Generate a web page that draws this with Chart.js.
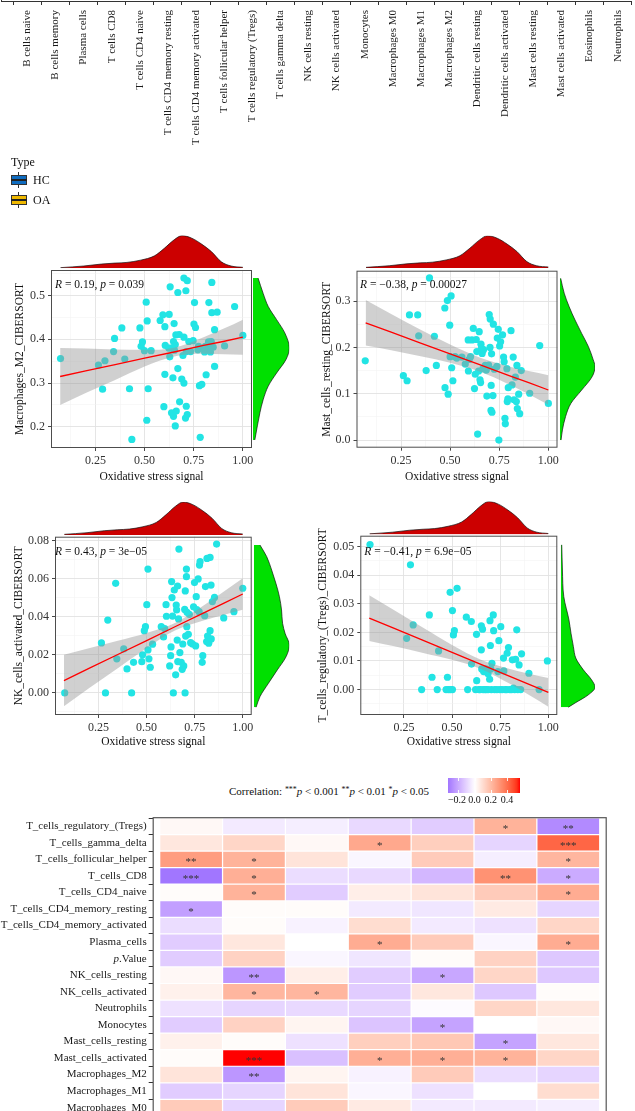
<!DOCTYPE html>
<html><head><meta charset="utf-8">
<script src="https://cdn.jsdelivr.net/npm/chart.js@4.4.1/dist/chart.umd.min.js"></script>
<style>
html,body{margin:0;padding:0;background:#fff;}
body{position:relative;width:635px;height:1111px;overflow:hidden;font-family:"Liberation Serif","Times New Roman",serif;color:#111;}
canvas{position:absolute;}
.t{position:absolute;white-space:nowrap;line-height:1;}
.k{position:absolute;box-sizing:border-box;}
sup{font-size:0.72em;vertical-align:0.38em;line-height:0;}
</style></head><body>
<script>
// ---------------- DATA ----------------
const cellTypes = ["B cells naive","B cells memory","Plasma cells","T cells CD8","T cells CD4 naive","T cells CD4 memory resting","T cells CD4 memory activated","T cells follicular helper","T cells regulatory (Tregs)","T cells gamma delta","NK cells resting","NK cells activated","Monocytes","Macrophages M0","Macrophages M1","Macrophages M2","Dendritic cells resting","Dendritic cells activated","Mast cells resting","Mast cells activated","Eosinophils","Neutrophils"];
const typeLevels = ["HC","OA"];

const oxiTitle = "Oxidative stress signal";
const oxiTicks = [0.25,0.50,0.75,1.00];

const m2Points = [[0.072,0.356],[0.265,0.341],[0.298,0.351],[0.286,0.286],[0.342,0.372],[0.347,0.402],[0.384,0.426],[0.399,0.355],[0.423,0.287],[0.435,0.171],[0.476,0.426],[0.482,0.384],[0.489,0.394],[0.499,0.374],[0.508,0.485],[0.513,0.442],[0.518,0.287],[0.533,0.374],[0.511,0.215],[0.579,0.443],[0.593,0.456],[0.603,0.429],[0.603,0.320],[0.598,0.246],[0.625,0.457],[0.630,0.520],[0.650,0.436],[0.656,0.388],[0.669,0.507],[0.669,0.333],[0.676,0.411],[0.678,0.257],[0.637,0.232],[0.695,0.363],[0.700,0.540],[0.717,0.534],[0.710,0.511],[0.712,0.372],[0.717,0.228],[0.652,0.375],[0.659,0.410],[0.689,0.309],[0.700,0.300],[0.700,0.405],[0.712,0.247],[0.708,0.220],[0.725,0.395],[0.734,0.372],[0.747,0.397],[0.751,0.435],[0.754,0.484],[0.759,0.427],[0.771,0.376],[0.774,0.384],[0.779,0.294],[0.783,0.176],[0.791,0.297],[0.796,0.380],[0.805,0.371],[0.813,0.319],[0.818,0.381],[0.825,0.394],[0.827,0.484],[0.835,0.371],[0.839,0.395],[0.842,0.461],[0.842,0.530],[0.849,0.382],[0.856,0.338],[0.856,0.422],[0.869,0.462],[0.907,0.385],[0.958,0.475],[1.000,0.409],[0.605,0.386],[0.635,0.380],[0.647,0.395],[0.809,0.384],[0.623,0.380],[0.628,0.360],[0.644,0.312],[0.647,0.224],[0.661,0.236],[0.656,0.202]];
const mastRestPoints = [[0.068,0.171],[0.262,0.139],[0.281,0.128],[0.293,0.270],[0.335,0.270],[0.340,0.225],[0.378,0.150],[0.395,0.350],[0.420,0.224],[0.430,0.161],[0.473,0.285],[0.474,0.113],[0.486,0.301],[0.490,0.099],[0.498,0.248],[0.505,0.311],[0.500,0.180],[0.508,0.156],[0.514,0.128],[0.525,0.180],[0.534,0.177],[0.577,0.164],[0.592,0.216],[0.593,0.149],[0.604,0.180],[0.611,0.216],[0.618,0.241],[0.624,0.111],[0.628,0.142],[0.633,0.217],[0.636,0.191],[0.640,0.013],[0.645,0.149],[0.648,0.234],[0.652,0.130],[0.655,0.124],[0.657,0.207],[0.660,0.198],[0.663,0.187],[0.667,0.154],[0.670,0.195],[0.679,0.161],[0.684,0.151],[0.687,0.095],[0.694,0.159],[0.696,0.162],[0.699,0.271],[0.703,0.200],[0.704,0.261],[0.708,0.064],[0.709,0.118],[0.711,0.186],[0.713,0.060],[0.718,0.096],[0.720,0.250],[0.725,0.153],[0.738,0.159],[0.740,0.220],[0.745,0.239],[0.748,0.000],[0.752,0.203],[0.757,0.212],[0.767,0.227],[0.772,0.179],[0.775,0.169],[0.779,0.047],[0.781,0.035],[0.789,0.154],[0.791,0.083],[0.794,0.089],[0.796,0.113],[0.810,0.236],[0.815,0.119],[0.821,0.179],[0.825,0.087],[0.832,0.136],[0.837,0.083],[0.840,0.161],[0.842,0.068],[0.849,0.099],[0.854,0.057],[0.862,0.150],[0.905,0.101],[0.956,0.204],[1.000,0.079],[0.560,0.179],[0.597,0.174]];
const nkActPoints = [[0.074,0.0],[0.265,0.0263],[0.286,0.0],[0.298,0.0383],[0.339,0.0576],[0.345,0.0179],[0.381,0.0231],[0.398,0.0126],[0.422,0.0],[0.432,0.0161],[0.475,0.0164],[0.479,0.0200],[0.488,0.0327],[0.494,0.0348],[0.501,0.0464],[0.507,0.0651],[0.507,0.0226],[0.512,0.0179],[0.519,0.0135],[0.531,0.0256],[0.576,0.0348],[0.588,0.0294],[0.594,0.0338],[0.601,0.0464],[0.603,0.0403],[0.620,0.0142],[0.625,0.0196],[0.627,0.0242],[0.630,0.0585],[0.632,0.0501],[0.635,0.0404],[0.639,0.0],[0.644,0.0541],[0.651,0.0095],[0.654,0.0462],[0.656,0.0436],[0.659,0.0278],[0.661,0.0562],[0.662,0.0165],[0.666,0.0389],[0.668,0.0756],[0.673,0.0212],[0.680,0.0161],[0.685,0.0124],[0.688,0.0257],[0.693,0.0142],[0.698,0.0439],[0.700,0.0],[0.701,0.0536],[0.703,0.0299],[0.707,0.0651],[0.707,0.0611],[0.709,0.0348],[0.710,0.0424],[0.717,0.0308],[0.722,0.0413],[0.729,0.0264],[0.739,0.0257],[0.744,0.0453],[0.749,0.0580],[0.755,0.0247],[0.758,0.0506],[0.761,0.0438],[0.768,0.0599],[0.773,0.0427],[0.775,0.0672],[0.778,0.0690],[0.789,0.0161],[0.792,0.0196],[0.802,0.0406],[0.806,0.0559],[0.812,0.0270],[0.814,0.0707],[0.817,0.0299],[0.823,0.0261],[0.830,0.0712],[0.830,0.0327],[0.835,0.0567],[0.836,0.0284],[0.842,0.0480],[0.853,0.0502],[0.864,0.0782],[0.901,0.0394],[0.954,0.0427],[1.000,0.0550]];
const tregPoints = [[0.074,0.0507],[0.264,0.0179],[0.284,0.0436],[0.298,0.0226],[0.342,0.0],[0.382,0.0261],[0.396,0.0043],[0.423,0.0],[0.430,0.0135],[0.469,0.0],[0.476,0.0043],[0.481,0.0],[0.490,0.0340],[0.491,0.0],[0.502,0.0276],[0.502,0.0],[0.507,0.0191],[0.512,0.0206],[0.526,0.0354],[0.574,0.0253],[0.581,0.0],[0.600,0.0238],[0.601,0.0089],[0.622,0.0],[0.627,0.0193],[0.628,0.0031],[0.640,0.0],[0.652,0.0139],[0.652,0.0223],[0.654,0.0072],[0.658,0.0211],[0.661,0.0],[0.664,0.0063],[0.670,0.0],[0.675,0.0072],[0.687,0.0055],[0.695,0.0036],[0.697,0.0241],[0.699,0.0154],[0.701,0.0072],[0.704,0.0],[0.707,0.0092],[0.714,0.0261],[0.716,0.0206],[0.721,0.0],[0.738,0.0063],[0.743,0.0171],[0.748,0.0],[0.753,0.0220],[0.760,0.0],[0.767,0.0110],[0.769,0.0065],[0.776,0.0],[0.786,0.0127],[0.793,0.0147],[0.800,0.0],[0.813,0.0104],[0.819,0.0005],[0.825,0.0],[0.830,0.0106],[0.836,0.0209],[0.841,0.0],[0.848,0.0086],[0.856,0.0],[0.861,0.0125],[0.899,0.0057],[0.952,0.0],[0.995,0.0100],[0.646,0.0],[0.677,0.0],[0.687,0.0],[0.733,0.0],[0.784,0.0],[0.809,0.0]];

const fitX = [0.07,0.2,0.35,0.5,0.65,0.8,0.9,1.0];
const m2Fit = [0.315,0.328,0.342,0.357,0.371,0.386,0.395,0.405];
const m2Lo  = [0.250,0.277,0.307,0.338,0.361,0.367,0.366,0.365];
const m2Hi  = [0.380,0.379,0.377,0.376,0.381,0.405,0.424,0.445];
const mastFit = [0.253,0.233,0.209,0.186,0.163,0.139,0.124,0.108];
const mastLo  = [0.204,0.194,0.181,0.167,0.148,0.120,0.099,0.076];
const mastHi  = [0.302,0.272,0.238,0.206,0.178,0.159,0.149,0.140];
const nkFit = [0.0065,0.0129,0.0202,0.0275,0.0349,0.0422,0.0471,0.0520];
const nkLo  = [-0.0070,0.0024,0.0130,0.0235,0.0329,0.0382,0.0410,0.0437];
const nkHi  = [0.0200,0.0235,0.0274,0.0315,0.0369,0.0462,0.0532,0.0603];
const tregFit = [0.0250,0.0214,0.0172,0.0130,0.0088,0.0046,0.0018,-0.0010];
const tregLo  = [0.0170,0.0151,0.0128,0.0104,0.0072,0.0020,-0.0019,-0.0060];
const tregHi  = [0.0330,0.0277,0.0216,0.0156,0.0104,0.0072,0.0055,0.0040];

const oxiDensX = [0.072,0.19,0.28,0.35,0.41,0.48,0.55,0.60,0.65,0.69,0.74,0.79,0.84,0.89,0.94,1.0];
const oxiDens  = [0.02,0.07,0.13,0.16,0.18,0.25,0.38,0.61,0.87,1.0,0.92,0.74,0.51,0.20,0.07,0.03];
const m2DensY = [0.54,0.505,0.475,0.445,0.414,0.38,0.354,0.323,0.293,0.262,0.232,0.202,0.17];
const m2Dens  = [0.14,0.28,0.42,0.65,0.88,1.0,0.91,0.65,0.42,0.28,0.19,0.12,0.05];
const mastDensY = [0.349,0.317,0.288,0.259,0.230,0.202,0.173,0.159,0.137,0.108,0.079,0.051,0.022,0.0];
const mastDens  = [0.02,0.12,0.26,0.43,0.62,0.81,0.95,1.0,0.92,0.62,0.31,0.16,0.07,0.03];
const nkDensY = [0.0777,0.0716,0.0646,0.0576,0.0506,0.0436,0.0366,0.0313,0.0252,0.0191,0.0121,0.0051,-0.0019,-0.0075];
const nkDens  = [0.17,0.36,0.50,0.62,0.72,0.78,0.81,0.88,1.0,0.91,0.66,0.41,0.17,0.06];
const tregDensY = [0.0506,0.0418,0.0325,0.0244,0.0197,0.0150,0.0110,0.0069,0.0034,0.0008,-0.0018,-0.0047,-0.0062];
const tregDens  = [0.03,0.05,0.09,0.24,0.30,0.37,0.44,0.66,0.90,1.0,0.81,0.42,0.22];

const heatRows = ["T_cells_regulatory_(Tregs)","T_cells_gamma_delta","T_cells_follicular_helper","T_cells_CD8","T_cells_CD4_naive","T_cells_CD4_memory_resting","T_cells_CD4_memory_activated","Plasma_cells","p.Value","NK_cells_resting","NK_cells_activated","Neutrophils","Monocytes","Mast_cells_resting","Mast_cells_activated","Macrophages_M2","Macrophages_M1","Macrophages_M0"];
const heatCols = ["C1","C2","C3","C4","C5","C6","C7"];
const heatValues = [
 [0.02,-0.05,-0.04,-0.09,-0.12,0.22,-0.28],
 [0.07,0.12,0.02,0.25,0.14,-0.10,0.42],
 [0.28,0.22,0.08,-0.02,0.15,-0.04,0.21],
 [-0.33,0.23,-0.08,-0.09,-0.17,0.31,-0.20],
 [0.01,0.22,-0.12,0.05,0.08,0.15,0.24],
 [-0.23,0.01,0.01,-0.05,-0.06,0.06,-0.10],
 [-0.08,0.01,-0.03,0.10,-0.05,-0.07,0.12],
 [-0.12,0.07,0.0,0.24,0.15,-0.02,0.24],
 [-0.12,0.13,-0.02,-0.06,0.01,0.13,-0.13],
 [0.02,-0.25,0.05,-0.12,-0.21,0.12,-0.13],
 [0.04,0.21,0.21,-0.12,0.07,-0.13,0.01],
 [-0.07,-0.10,-0.09,-0.10,-0.01,0.12,0.07],
 [-0.12,0.13,0.03,-0.14,-0.22,0.0,0.02],
 [0.04,0.01,-0.07,0.14,0.16,-0.22,0.07],
 [0.01,0.555,-0.15,0.23,0.23,0.22,0.12],
 [0.08,-0.25,0.03,-0.03,0.15,-0.08,-0.10],
 [-0.12,-0.10,0.08,-0.02,-0.07,0.0,0.10],
 [0.15,-0.10,0.15,0.06,-0.05,-0.05,-0.04]];
const heatStars = [
 ["","","","","","*","**"],
 ["","","","*","","","***"],
 ["**","*","","","","","*"],
 ["***","*","","","","**","*"],
 ["","*","","","","","*"],
 ["*","","","","","",""],
 ["","","","","","",""],
 ["","","","*","","","*"],
 ["","","","","","",""],
 ["","**","","","*","",""],
 ["","*","*","","","",""],
 ["","","","","","",""],
 ["","","","","*","",""],
 ["","","","","","*",""],
 ["","***","","*","*","*",""],
 ["","**","","","","",""],
 ["","","","","","",""],
 ["","","","","","",""]];
const corrTicks = [-0.2,0.0,0.2,0.4];

// ---------------- HELPERS ----------------
const F = '"Liberation Serif","Times New Roman",serif';
Chart.defaults.font.family = F;
Chart.defaults.color = '#333';

function mk(l,t,w,h){const c=document.createElement('canvas');c.width=w;c.height=h;c.style.left=l+'px';c.style.top=t+'px';c.style.width=w+'px';c.style.height=h+'px';document.body.appendChild(c);return c;}
function txt(html,l,cy,size,extra){const d=document.createElement('div');d.className='t';d.innerHTML=html;d.style.left=l+'px';d.style.top=(cy-size/2)+'px';d.style.fontSize=size+'px';if(extra)d.style.cssText+=extra;document.body.appendChild(d);return d;}
function box(l,t,w,h,css){const d=document.createElement('div');d.className='k';d.style.cssText+=`left:${l}px;top:${t}px;width:${w}px;height:${h}px;`+css;document.body.appendChild(d);return d;}
const isMajor=(v,m)=>Math.abs(v/m-Math.round(v/m))<1e-6;
function tickList(lo,hi,step){const out=[];for(let k=Math.ceil(lo/step-1e-9);k*step<=hi+1e-12;k++){out.push({value:Math.round(k*step*1e6)/1e6});}return out;}
const BASEOPT={responsive:false,animation:false,devicePixelRatio:1,events:[]};
const frame={id:'frame',afterDatasetsDraw(chart,args,o){if(!o||!o.color)return;const a=chart.chartArea,c=chart.ctx;c.save();c.strokeStyle=o.color;c.lineWidth=o.width||1;c.strokeRect(a.left+0.5,a.top+0.5,a.right-a.left-1,a.bottom-a.top-1);c.restore();}};

const oxiRange=[0.0235,1.0465];

function scatterPanel(p){
  const [cl,ct,cr,cb]=p.canvas,[al,at,ar,ab]=p.area;
  const c=mk(cl,ct,cr-cl,cb-ct);
  const gc=m=>ctx=>(ctx.tick&&isMajor(ctx.tick.value,m))?'#e2e2e2':'#f1f1f1';
  const gw=m=>ctx=>(ctx.tick&&isMajor(ctx.tick.value,m))?0.9:0.5;
  const tc=m=>ctx=>(ctx.tick&&isMajor(ctx.tick.value,m))?'#333':'rgba(0,0,0,0)';
  const xMaj=oxiTicks[1]-oxiTicks[0];
  new Chart(c,{type:'scatter',data:{datasets:[
    {data:fitX.map((x,i)=>({x,y:p.fit[i]})),showLine:true,borderColor:'#ff0000',borderWidth:1.3,pointRadius:0,order:0},
    {data:fitX.map((x,i)=>({x,y:p.lo[i]})),showLine:true,borderWidth:0,borderColor:'rgba(0,0,0,0)',pointRadius:0,fill:false,cubicInterpolationMode:'monotone',order:1},
    {data:fitX.map((x,i)=>({x,y:p.hi[i]})),showLine:true,borderWidth:0,borderColor:'rgba(0,0,0,0)',pointRadius:0,fill:'-1',backgroundColor:'rgba(150,150,150,0.45)',cubicInterpolationMode:'monotone',order:1},
    {data:p.points.map(q=>({x:q[0],y:q[1]})),pointRadius:3.6,pointBackgroundColor:'#22e4e4',pointBorderWidth:0,order:2}
  ]},options:Object.assign({},BASEOPT,{
    layout:{padding:{left:0,top:at-ct,right:cr-ar,bottom:0}},
    plugins:{legend:{display:false},tooltip:{enabled:false},frame:{color:'#4d4d4d',width:1}},
    scales:{
      x:{type:'linear',min:oxiRange[0],max:oxiRange[1],afterFit:s=>{s.height=cb-ab;},
        afterBuildTicks:s=>{s.ticks=tickList(oxiRange[0],oxiRange[1],xMaj/2);},
        ticks:{autoSkip:false,maxRotation:0,font:{size:12},color:'#333',padding:3,callback:v=>isMajor(v,xMaj)?v.toFixed(2):''},
        grid:{color:gc(xMaj),lineWidth:gw(xMaj),tickColor:tc(xMaj),tickLength:3},
        border:{display:false},
        title:{display:true,text:oxiTitle,font:{size:11.5},color:'#111',padding:0}},
      y:{type:'linear',min:p.yr[0],max:p.yr[1],afterFit:s=>{s.width=al-cl;},
        afterBuildTicks:s=>{s.ticks=tickList(p.yr[0],p.yr[1],p.yMajor/2);},
        ticks:{autoSkip:false,font:{size:12},color:'#333',padding:3,callback:v=>isMajor(v,p.yMajor)?v.toFixed(p.yDec):''},
        grid:{color:gc(p.yMajor),lineWidth:gw(p.yMajor),tickColor:tc(p.yMajor),tickLength:3},
        border:{display:false},
        title:{display:true,text:p.ytitle,font:{size:11.5},color:'#111',padding:0}}
    }}),plugins:[frame]});
}

function topDensity(l,r,base,peak){
  const cl=Math.floor(l),cr=Math.ceil(r),ct=Math.floor(base-peak-2),cb=Math.ceil(base);
  const c=mk(cl,ct,cr-cl,cb-ct);
  new Chart(c,{type:'line',data:{datasets:[{data:oxiDensX.map((x,i)=>({x,y:oxiDens[i]})),fill:'origin',backgroundColor:'#cc0000',borderColor:'#111',borderWidth:0.7,pointRadius:0,cubicInterpolationMode:'monotone'}]},
    options:Object.assign({},BASEOPT,{layout:{padding:{left:l-cl,right:cr-r,top:(base-peak)-ct,bottom:cb-base}},
      plugins:{legend:{display:false},tooltip:{enabled:false}},
      scales:{x:{type:'linear',display:false,min:oxiRange[0],max:oxiRange[1]},y:{type:'linear',display:false,min:0,max:1}}})});
}
function rightDensity(l,w,t,b,yr,ys,ds){
  const cl=Math.floor(l),cr=Math.ceil(l+w+2),ct=Math.floor(t),cb=Math.ceil(b);
  const c=mk(cl,ct,cr-cl,cb-ct);
  new Chart(c,{type:'line',data:{datasets:[{data:ys.map((y,i)=>({x:ds[i],y})),fill:'origin',backgroundColor:'#00e000',borderColor:'#111',borderWidth:0.7,pointRadius:0,cubicInterpolationMode:'monotone'}]},
    options:Object.assign({},BASEOPT,{indexAxis:'y',layout:{padding:{left:l-cl,right:cr-(l+w),top:t-ct,bottom:cb-b}},
      plugins:{legend:{display:false},tooltip:{enabled:false}},
      scales:{x:{type:'linear',display:false,min:0,max:1},y:{type:'linear',display:false,min:yr[0],max:yr[1]}}})});
}

// ---------------- TOP CATEGORY AXIS ----------------
const axisLine={id:'axisLine',afterDraw(chart){const c=chart.ctx,a=chart.chartArea;c.save();c.strokeStyle='#333';c.lineWidth=1;c.beginPath();c.moveTo(1,a.bottom+0.5);c.lineTo(631,a.bottom+0.5);c.moveTo(1.5,0);c.lineTo(1.5,a.bottom+0.5);c.stroke();c.restore();}};
new Chart(mk(0,-40,645,200),{type:'bar',data:{labels:cellTypes,datasets:[]},options:Object.assign({},BASEOPT,{
  layout:{padding:{left:13.25,right:13.3,top:0,bottom:0}},
  plugins:{legend:{display:false},tooltip:{enabled:false}},
  scales:{x:{type:'category',offset:true,afterFit:s=>{s.height=159;},
    ticks:{autoSkip:false,minRotation:90,maxRotation:90,font:{size:11},color:'#1a1a1a',padding:5},
    grid:{drawOnChartArea:false,tickLength:4,color:'#333'},border:{display:false}},
    y:{display:false}}}),plugins:[axisLine]});

// ---------------- SCATTER PANELS ----------------
topDensity(51,252,268.3,32.7);
topDensity(356.5,557.5,268,32.3);
topDensity(55,251.7,535,33);
topDensity(360.3,557.3,534.5,33);

const p1yr=[0.1515,0.5585],p2yr=[-0.0165,0.3655],p3yr=[-0.0116,0.0821],p4yr=[-0.0089,0.0538];
rightDensity(253,36.3,270,448,p1yr,m2DensY,m2Dens);
rightDensity(560,35,270.7,447.7,p2yr,mastDensY,mastDens);
rightDensity(254,35.3,536.7,715,p3yr,nkDensY,nkDens);
rightDensity(560.7,34.3,535.7,715,p4yr,tregDensY,tregDens);

scatterPanel({canvas:[13,258,262,484],area:[51,270,252,448],yr:p1yr,yMajor:0.1,yDec:1,points:m2Points,fit:m2Fit,lo:m2Lo,hi:m2Hi,ytitle:'Macrophages_M2_CIBERSORT'});
scatterPanel({canvas:[320,258,568,484],area:[356.5,270.7,557.5,447.7],yr:p2yr,yMajor:0.1,yDec:1,points:mastRestPoints,fit:mastFit,lo:mastLo,hi:mastHi,ytitle:'Mast_cells_resting_CIBERSORT'});
scatterPanel({canvas:[12,524,262,749],area:[55,536.7,251.7,715],yr:p3yr,yMajor:0.02,yDec:2,points:nkActPoints,fit:nkFit,lo:nkLo,hi:nkHi,ytitle:'NK_cells_activated_CIBERSORT'});
scatterPanel({canvas:[316,524,568,749],area:[360.3,535.7,557.3,715],yr:p4yr,yMajor:0.01,yDec:2,points:tregPoints,fit:tregFit,lo:tregLo,hi:tregHi,ytitle:'T_cells_regulatory_(Tregs)_CIBERSORT'});

// ---------------- HEATMAP ----------------
function s2l(c){c/=255;return c<=0.04045?c/12.92:Math.pow((c+0.055)/1.055,2.4);}
function l2s(c){c=Math.max(0,Math.min(1,c));return Math.round(255*(c<=0.0031308?12.92*c:1.055*Math.pow(c,1/2.4)-0.055));}
function rgb2lab(rgb){const r=s2l(rgb[0]),g=s2l(rgb[1]),b=s2l(rgb[2]);const X=(0.4124*r+0.3576*g+0.1805*b)/0.95047,Y=0.2126*r+0.7152*g+0.0722*b,Z=(0.0193*r+0.1192*g+0.9505*b)/1.08883;const f=t=>t>0.008856?Math.cbrt(t):7.787*t+16/116;const fx=f(X),fy=f(Y),fz=f(Z);return[116*fy-16,500*(fx-fy),200*(fy-fz)];}
function lab2rgb(l){const fy=(l[0]+16)/116,fx=fy+l[1]/500,fz=fy-l[2]/200;const inv=t=>t*t*t>0.008856?t*t*t:(t-16/116)/7.787;const X=inv(fx)*0.95047,Y=inv(fy),Z=inv(fz)*1.08883;return[l2s(3.2406*X-1.5372*Y-0.4986*Z),l2s(-0.9689*X+1.8758*Y+0.0415*Z),l2s(0.0557*X-0.2040*Y+1.0570*Z)];}
const LAB_W=rgb2lab([255,255,255]),LAB_B=rgb2lab([0,0,255]),LAB_R=rgb2lab([255,0,0]);
const allVals=heatValues.flat();
const vMin=Math.min(...allVals),vMax=Math.max(...allVals),vAbs=Math.max(-vMin,vMax);
function corrColor(v){const t=Math.max(-1,Math.min(1,v/vAbs));const e=t<0?LAB_B:LAB_R,a=Math.abs(t);const c=lab2rgb([0,1,2].map(i=>LAB_W[i]+(e[i]-LAB_W[i])*a));return `rgb(${c[0]},${c[1]},${c[2]})`;}

const ITALIC_ROW='p.Value';
const stars={id:'stars',afterDatasetsDraw(chart){const c=chart.ctx;c.save();c.fillStyle='#333';c.font='11px '+F;c.textAlign='center';c.textBaseline='middle';
  heatCols.forEach((col,j)=>{const meta=chart.getDatasetMeta(j);heatRows.forEach((r,i)=>{const s=heatStars[i][j];if(!s)return;const el=meta.data[i];const cp=el.getCenterPoint();c.fillText(s,cp.x,cp.y+3);});});
  const a=chart.chartArea;c.strokeStyle='#555';c.lineWidth=1.2;c.strokeRect(a.left+0.5,a.top-0.3,a.right-a.left-1,a.bottom-a.top+2);
  // row label with italic "p"
  const yi=heatRows.indexOf(ITALIC_ROW);
  if(yi>=0){const ys=chart.scales.y;const py=ys.getPixelForTick(yi);const xr=ys.right-4-2;c.fillStyle='#1a1a1a';c.textAlign='right';c.textBaseline='middle';
    c.font='11px '+F;const rest=ITALIC_ROW.slice(1);c.fillText(rest,xr,py);const w=c.measureText(rest).width;c.font='italic 11px '+F;c.fillText(ITALIC_ROW[0],xr-w,py);}
  c.restore();}};
const colPad=0.111;
new Chart(mk(0,800,635,330),{type:'bar',data:{labels:heatRows,datasets:heatCols.map((col,j)=>({label:col,data:heatRows.map(()=>[j+1-0.49,j+1+0.49]),backgroundColor:heatRows.map((r,i)=>corrColor(heatValues[i][j])),borderWidth:0,grouped:false,barPercentage:1,categoryPercentage:0.93}))},
  options:Object.assign({},BASEOPT,{indexAxis:'y',layout:{padding:{left:0,top:18,right:28.3,bottom:14.1}},
    plugins:{legend:{display:false},tooltip:{enabled:false}},
    scales:{x:{type:'linear',display:false,min:0.5-colPad,max:heatCols.length+0.5+colPad},
      y:{type:'category',offset:true,afterFit:s=>{s.width=152.7;},ticks:{autoSkip:false,font:{size:11},color:'#1a1a1a',padding:2,callback:function(v){const l=this.getLabelForValue(v);return l===ITALIC_ROW?'':l;}},
        grid:{drawOnChartArea:false,tickLength:4,color:'#333'},border:{display:false}}}}),plugins:[stars]});

// ---------------- TEXT / LEGENDS ----------------
txt('Type',11,162,12);
const keyColors=['#0f6cc0','#efb800'];
typeLevels.forEach((lv,i)=>{const cy=180+20*i;
  box(18.3,cy-8,1,3.5,'background:#333;');box(18.3,cy+4.8,1,3.5,'background:#333;');
  box(11,cy-5,15.5,10.3,`background:${keyColors[i]};border:1px solid #333;`);
  box(11,cy-0.6,15.5,1.3,'background:#222;');
  txt(lv,33,cy,12);});

const ann=[['<i>R</i> = 0.19, <i>p</i> = 0.039',55,285],['<i>R</i> = &minus;0.38, <i>p</i> = 0.00027',360,285],['<i>R</i> = 0.43, <i>p</i> = 3e&minus;05',55,551.7],['<i>R</i> = &minus;0.41, <i>p</i> = 6.9e&minus;05',364.3,551.7]];
ann.forEach(a=>txt(a[0],a[1],a[2],11.5));

txt('Correlation: <sup>***</sup><i>p</i> &lt; 0.001 <sup>**</sup><i>p</i> &lt; 0.01 <sup>*</sup><i>p</i> &lt; 0.05',229,791,11);
const cbL=448.3,cbT=778.3,cbW=72,cbH=14.4;
const stops=[];for(let k=0;k<=24;k++){const v=vMin+(vMax-vMin)*k/24;stops.push(corrColor(v)+' '+(k/24*100).toFixed(1)+'%');}
box(cbL,cbT,cbW,cbH,`background:linear-gradient(to right,${stops.join(',')});`);
corrTicks.forEach(v=>{const x=cbL+(v-vMin)/(vMax-vMin)*cbW;
  box(x-0.4,cbT,0.8,3,'background:rgba(255,255,255,0.9);');box(x-0.4,cbT+cbH-3,0.8,3,'background:rgba(255,255,255,0.9);');
  const d=txt((v<0?'&minus;':'')+Math.abs(v).toFixed(1),0,800,10);d.style.left=(x-(v<0?11:7))+'px';});
</script></body></html>
